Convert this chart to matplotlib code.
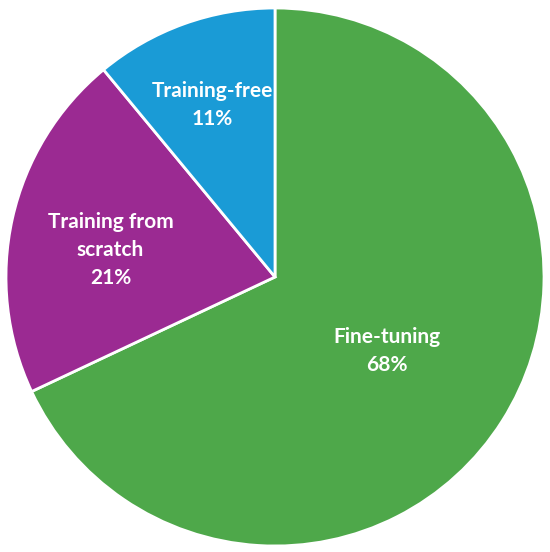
import numpy as np
import matplotlib.pyplot as plt

# data
categories = ['Fine-tuning', 'Training from\nscratch', 'Training-free']
shares = [68, 21, 11]
colors = ['#4EA84A', '#9B2A92', '#1A9BD6']

W, H = 550, 552
fig = plt.figure(figsize=(W / 100, H / 100), dpi=100)
# pie centre (275, 277) px, radius 269 px
ax = fig.add_axes([(275 - 269) / W, (H - 277 - 269) / H, 538 / W, 538 / H])

wedges, _ = ax.pie(shares, colors=colors, startangle=90, counterclock=False,
                   radius=1.0, wedgeprops=dict(edgecolor='white', linewidth=2))

# label placement per wedge: radius fraction and angle nudge (deg)
label_r = [0.5, 0.62, 0.68]
label_da = [-1.0, 3.3, 0.3]
for w, cat, val, r, da in zip(wedges, categories, shares, label_r, label_da):
    mid = np.deg2rad((w.theta1 + w.theta2) / 2 + da)
    ax.text(r * np.cos(mid), r * np.sin(mid), '%s\n%d%%' % (cat, val),
            ha='center', va='center', color='white', fontsize=15,
            fontweight='bold', family='Lato', linespacing=1.5)

ax.set_xlim(-1, 1)
ax.set_ylim(-1, 1)
ax.axis('off')

fig.savefig('out.png', dpi=100, facecolor='white')
